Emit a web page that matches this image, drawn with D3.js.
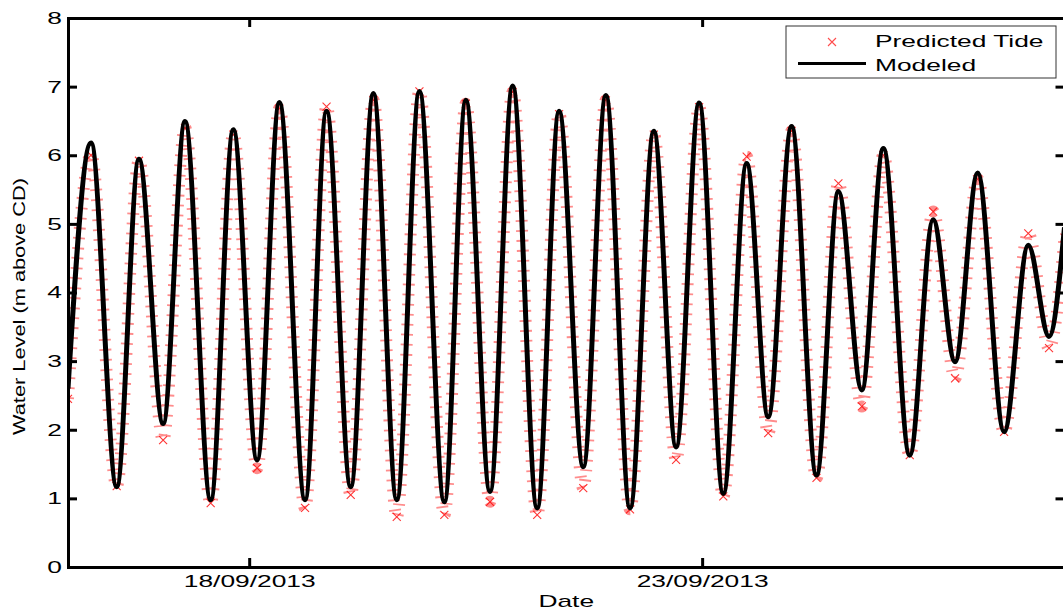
<!DOCTYPE html>
<html>
<head>
<meta charset="utf-8">
<script src="https://cdn.jsdelivr.net/npm/d3@7"></script>
<style>
body { margin: 0; background: #fff; }
text { font-family: "Liberation Sans", Arial, sans-serif; }
</style>
</head>
<body>
<script>
// high / low water times (plus the two window edges)
var extremeTimes = [
  "2013-09-16T00:00", "2013-09-16T06:06", "2013-09-16T12:54", "2013-09-16T18:48",
  "2013-09-17T01:12", "2013-09-17T07:00", "2013-09-17T13:48", "2013-09-17T19:48",
  "2013-09-18T02:06", "2013-09-18T08:00", "2013-09-18T14:48", "2013-09-18T20:30",
  "2013-09-19T02:54", "2013-09-19T08:54", "2013-09-19T15:06", "2013-09-19T21:06",
  "2013-09-20T03:42", "2013-09-20T09:24", "2013-09-20T15:48", "2013-09-20T21:48",
  "2013-09-21T04:18", "2013-09-21T10:06", "2013-09-21T16:30", "2013-09-21T22:30",
  "2013-09-22T04:54", "2013-09-22T11:12", "2013-09-22T17:06", "2013-09-22T23:12",
  "2013-09-23T05:36", "2013-09-23T11:48", "2013-09-23T17:30", "2013-09-23T23:42",
  "2013-09-24T06:18", "2013-09-24T12:06", "2013-09-24T18:18", "2013-09-25T00:00",
  "2013-09-25T07:00", "2013-09-25T13:12", "2013-09-25T19:00", "2013-09-26T01:00",
  "2013-09-26T08:00", "2013-09-26T14:24", "2013-09-26T19:54", "2013-09-27T00:00"
];

var modeledLevels = [
  2.60, 6.18, 1.17, 5.94, 2.09, 6.49, 0.98, 6.37, 1.56, 6.77, 0.98, 6.64,
  1.17, 6.90, 0.98, 6.93, 0.95, 6.80, 1.10, 7.01, 0.86, 6.64, 1.46, 6.87,
  0.86, 6.35, 1.75, 6.76, 1.07, 5.88, 2.19, 6.42, 1.34, 5.47, 2.58, 6.10,
  1.63, 5.06, 2.99, 5.74, 1.97, 4.69, 3.36, 4.95
];

var predictedLevels = [
  2.45, 6.00, 1.18, 5.92, 1.85, 6.40, 0.93, 6.30, 1.44, 6.68, 0.86, 6.71,
  1.05, 6.80, 0.73, 6.93, 0.76, 6.75, 0.95, 6.92, 0.76, 6.60, 1.15, 6.80,
  0.84, 6.30, 1.56, 6.70, 1.03, 5.98, 1.95, 6.35, 1.30, 5.59, 2.34, 6.00,
  1.63, 5.18, 2.75, 5.65, 1.97, 4.86, 3.19, 4.80
];

var xTickDates = ["2013-09-18T00:00", "2013-09-23T00:00"];
var yTicks = [0, 1, 2, 3, 4, 5, 6, 7, 8];
var seriesNames = ["Predicted Tide", "Modeled"];

var width = 1063, height = 612;
var plot = {left: 68, right: 1064.5, top: 18, bottom: 567};
var stretch = 1.55;   // the reference text is drawn wide

var parse = d3.utcParse("%Y-%m-%dT%H:%M");
var times = extremeTimes.map(parse);

var modeled = times.map(function(t, i){ return {t: t, v: modeledLevels[i]}; });
var predicted = times.map(function(t, i){ return {t: t, v: predictedLevels[i]}; });

var svg = d3.select("body").append("svg")
    .attr("width", width)
    .attr("height", height);

var x = d3.scaleUtc()
    .domain(d3.extent(times))
    .range([plot.left, plot.right]);

var y = d3.scaleLinear()
    .domain([0, 8])
    .range([plot.bottom, plot.top]);

svg.append("clipPath").attr("id", "clip")
  .append("rect")
    .attr("x", plot.left).attr("y", plot.top)
    .attr("width", plot.right - plot.left)
    .attr("height", plot.bottom - plot.top);

var line = d3.line()
    .x(function(d){ return x(d.t); })
    .y(function(d){ return y(d.v); })
    .curve(d3.curveMonotoneX);

var g = svg.append("g").attr("clip-path", "url(#clip)");

// predicted tide: little red marks strung along the curve
g.append("path")
    .datum(predicted)
    .attr("d", line)
    .attr("fill", "none")
    .attr("stroke", "#ff0000")
    .attr("stroke-opacity", 0.45)
    .attr("stroke-width", 12)
    .attr("stroke-dasharray", "1.8 8.2");

var cross = "M-4,-4L4,4M-4,4L4,-4";

g.selectAll(".pt")
    .data(predicted)
    .enter().append("path")
    .attr("class", "pt")
    .attr("d", cross)
    .attr("transform", function(d){ return "translate(" + x(d.t) + "," + y(d.v) + ")"; })
    .attr("fill", "none")
    .attr("stroke", "#ff0000")
    .attr("stroke-opacity", 0.8)
    .attr("stroke-width", 1.1);

g.append("path")
    .datum(modeled)
    .attr("d", line)
    .attr("fill", "none")
    .attr("stroke", "#000")
    .attr("stroke-width", 5)
    .attr("stroke-linejoin", "round");

// axes, MATLAB box style with inward ticks
var xTicks = xTickDates.map(parse);

svg.append("g")
    .attr("transform", "translate(0," + plot.bottom + ")")
    .call(d3.axisBottom(x).tickValues(xTicks).tickFormat(d3.utcFormat("%d/%m/%Y"))
        .tickSize(-9).tickSizeOuter(0).tickPadding(8));

svg.append("g")
    .attr("transform", "translate(0," + plot.top + ")")
    .call(d3.axisTop(x).tickValues(xTicks).tickFormat("")
        .tickSize(-9).tickSizeOuter(0));

svg.append("g")
    .attr("transform", "translate(" + plot.left + ",0)")
    .call(d3.axisLeft(y).tickValues(yTicks).tickFormat(d3.format("d"))
        .tickSize(-9).tickSizeOuter(0).tickPadding(6));

svg.append("g")
    .attr("transform", "translate(" + plot.right + ",0)")
    .call(d3.axisRight(y).tickValues(yTicks).tickFormat("")
        .tickSize(-9).tickSizeOuter(0));

svg.selectAll(".domain")
    .attr("stroke", "#000")
    .attr("stroke-width", 3)
    .attr("stroke-linecap", "square");

svg.selectAll(".tick line")
    .attr("stroke", "#000")
    .attr("stroke-width", 3);

svg.selectAll(".tick text")
    .attr("class", "stretch")
    .attr("fill", "#000")
    .style("font-size", "17px")
    .style("font-family", "'Liberation Sans', Arial, sans-serif");

// axis titles
svg.append("text")
    .attr("class", "stretch")
    .attr("x", (plot.left + plot.right) / 2)
    .attr("y", 607)
    .attr("text-anchor", "middle")
    .style("font-size", "17px")
    .text("Date");

svg.append("text")
    .attr("transform", "translate(25,306.5) rotate(-90)")
    .attr("text-anchor", "middle")
    .attr("textLength", 257)
    .attr("lengthAdjust", "spacingAndGlyphs")
    .style("font-size", "17px")
    .text("Water Level (m above CD)");

// legend
var legend = svg.append("g");

legend.append("rect")
    .attr("x", 786).attr("y", 26)
    .attr("width", 270).attr("height", 52)
    .attr("fill", "#fff")
    .attr("stroke", "#333")
    .attr("stroke-width", 1);

legend.append("path")
    .attr("d", cross)
    .attr("transform", "translate(832,42)")
    .attr("fill", "none")
    .attr("stroke", "#ff0000")
    .attr("stroke-opacity", 0.7)
    .attr("stroke-width", 1.1);

legend.append("line")
    .attr("x1", 798).attr("x2", 866)
    .attr("y1", 63.5).attr("y2", 63.5)
    .attr("stroke", "#000")
    .attr("stroke-width", 3);

legend.selectAll(".lab")
    .data(seriesNames)
    .enter().append("text")
    .attr("class", "stretch")
    .attr("x", 875)
    .attr("y", function(d, i){ return 47 + i * 24; })
    .style("font-size", "17px")
    .text(function(d){ return d; });

svg.selectAll("text.stretch").each(function(){
    var w = this.getComputedTextLength();
    d3.select(this)
        .attr("textLength", w * stretch)
        .attr("lengthAdjust", "spacingAndGlyphs");
});
</script>
</body>
</html>
